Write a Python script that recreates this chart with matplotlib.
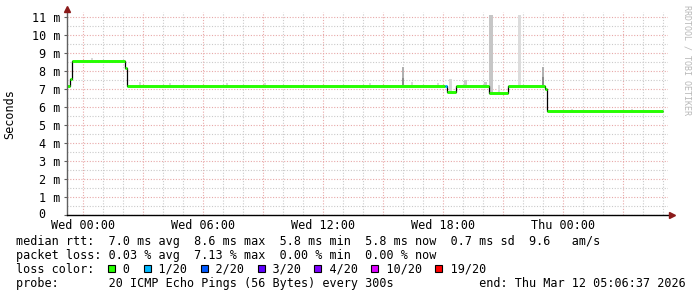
import matplotlib.pyplot as plt
from matplotlib.patches import Rectangle

plt.rcParams['font.family'] = ['DejaVu Sans Mono', 'DejaVu Sans']

# median rtt, stepwise (hours from Wed 00:00 -> ms)
step_start = [-0.8, -0.65, -0.55, 2.1, 2.2, 18.1, 18.2, 18.65, 20.3, 21.25, 23.1, 23.2]
step_ms = [7.15, 7.55, 8.55, 8.15, 7.17, 7.17, 6.83, 7.17, 6.8, 7.17, 7.0, 5.76]
step_loss = [0, 0, 0, 0, 0, 1, 0, 0, 0, 0, 0, 0]
step_end = 29.0

# smoke (ping spread): start/end hour, low/high ms, grey level
smoke_t0 = [0.38, 2.8, 4.3, 7.15, 9.05, 14.3, 15.95, 15.95, 16.4, 17.7, 18.3, 19.05, 20.05, 20.3, 20.75, 21.75, 22.93, 22.93, 24.4, 27.4]
smoke_t1 = [0.48, 2.9, 4.4, 7.25, 9.15, 14.4, 16.05, 16.05, 16.5, 17.8, 18.45, 19.2, 20.2, 20.5, 20.85, 21.9, 23.03, 23.03, 24.5, 27.5]
smoke_lo = [8.55, 7.2, 7.2, 7.2, 7.2, 7.2, 7.2, 7.2, 7.2, 7.2, 6.85, 7.2, 7.2, 6.8, 6.8, 7.2, 7.2, 7.2, 5.76, 5.76]
smoke_hi = [8.75, 7.4, 7.35, 7.35, 7.35, 7.35, 8.2, 7.6, 7.4, 7.35, 7.55, 7.5, 7.4, 11.1, 7.2, 11.1, 8.25, 7.65, 5.9, 5.9]
smoke_grey = ['#d8d8d8', '#d8d8d8', '#d8d8d8', '#d8d8d8', '#d8d8d8', '#d8d8d8', '#b0b0b0', '#909090',
              '#d8d8d8', '#d8d8d8', '#d8d8d8', '#c8c8c8', '#c8c8c8', '#c6c6c6', '#dcdcdc', '#dcdcdc',
              '#b0b0b0', '#8c8c8c', '#d8d8d8', '#d8d8d8']

loss_labels = ['0', '1/20', '2/20', '3/20', '4/20', '10/20', '19/20']
loss_colors = ['#26ff00', '#00b8ff', '#0059ff', '#5e00ff', '#7e00ff', '#dd00ff', '#ff0000']

stats_rtt = "median rtt:  7.0 ms avg  8.6 ms max  5.8 ms min  5.8 ms now  0.7 ms sd  9.6   am/s"
stats_loss = "packet loss: 0.03 % avg  7.13 % max  0.00 % min  0.00 % now"
probe_txt = "probe:       20 ICMP Echo Pings (56 Bytes) every 300s            end: Thu Mar 12 05:06:37 2026"

W, H = 697, 297
fig = plt.figure(figsize=(W / 100, H / 100), dpi=100)
ax = fig.add_axes([67 / W, (H - 215) / H, (668 - 67) / W, (215 - 12) / H])

# smoke
for t0, t1, lo, hi, g in zip(smoke_t0, smoke_t1, smoke_lo, smoke_hi, smoke_grey):
    ax.bar(t0, hi - lo, bottom=lo, width=t1 - t0, align='edge', color=g, lw=0, zorder=2)

# median line
edges = step_start + [step_end]
ax.stairs(step_ms, edges, baseline=None, color='black', lw=0.9, zorder=3)
ax.hlines(step_ms, edges[:-1], edges[1:], colors=[loss_colors[l] for l in step_loss],
          lw=2.1, zorder=4)

ax.set_xlim(-0.8, 29.25)
ax.set_ylim(0, 203 / 18)

cw = 8.5 / 72 * 100 * 0.602  # monospace char width in px

xt = list(range(0, 28, 3))
ax.set_xticks(xt)
ax.set_xticklabels([('Wed' if h < 24 else 'Thu') + ' %02d:00' % (h % 24) if h % 6 == 0 else '' for h in xt])
ax.set_xticks(range(0, 30), minor=True)
ax.set_yticks(range(12))
ax.set_yticklabels([''] + ['%d m' % v for v in range(1, 12)])
ax.set_yticks([v + 0.5 for v in range(11)], minor=True)
# "0" has no unit, so it sits in the digit column
ax.annotate('0', xy=(0, 0), xycoords=('axes fraction', 'data'),
            xytext=(-5 - 2 * cw * 0.72, 0), textcoords='offset points',
            ha='right', va='center', fontsize=8.5)

ax.grid(which='major', color='#e8a8a8', lw=0.8, ls=(0, (1, 1.5)), zorder=0)
ax.grid(which='minor', color='#cacaca', lw=0.8, ls=(0, (1, 1.5)), zorder=0)
ax.tick_params(axis='x', which='both', length=0, pad=3, labelsize=8.5)
ax.tick_params(axis='y', which='major', length=2, color='#606060', pad=3, labelsize=8.5)
ax.tick_params(axis='y', which='minor', length=0)

for s in ['top', 'right', 'left', 'bottom']:
    ax.spines[s].set_visible(False)
ax.plot([0, 0], [0, 1.01], transform=ax.transAxes, color='#606060', lw=1, clip_on=False, zorder=5)
ax.plot([0, 1.007], [0, 0], transform=ax.transAxes, color='black', lw=1, clip_on=False, zorder=5)
ax.plot(0, 1.015, marker='^', ms=4.5, color='#8b1a1a', transform=ax.transAxes, clip_on=False, zorder=6)
ax.plot(1.007, 0, marker='>', ms=4.5, color='#8b1a1a', transform=ax.transAxes, clip_on=False, zorder=6)

fig.text(10 / W, 1 - 114 / H, 'Seconds', rotation=90, ha='center', va='center', fontsize=8.5)
fig.text(687 / W, 1 - 5 / H, 'RRDTOOL / TOBI OETIKER', rotation=-90, ha='center', va='top',
         fontsize=6, color='#b8b8b8')

# legend block
x0 = 16
fig.text(x0 / W, 1 - 241 / H, stats_rtt, va='center', fontsize=8.5)
fig.text(x0 / W, 1 - 255 / H, stats_loss, va='center', fontsize=8.5)
line3 = "loss color:  "
box_cols = []
for lab in loss_labels:
    box_cols.append(len(line3))
    line3 += "  " + lab + "  "
fig.text(x0 / W, 1 - 269 / H, line3, va='center', fontsize=8.5)
for col, c in zip(box_cols, loss_colors):
    fig.add_artist(Rectangle(((x0 + col * cw) / W, 1 - 272 / H), 7 / W, 7 / H,
                             transform=fig.transFigure, facecolor=c, edgecolor='black', lw=0.8))
fig.text(x0 / W, 1 - 283.5 / H, probe_txt, va='center', fontsize=8.5)

fig.savefig('out.png', dpi=100)
